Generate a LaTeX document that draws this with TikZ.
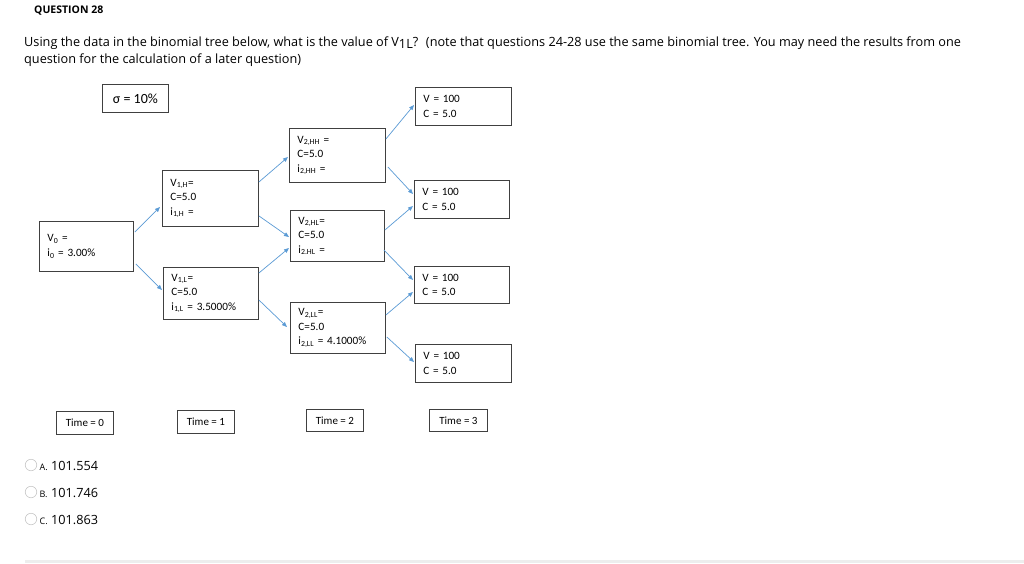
\documentclass[tikz,border=0pt]{standalone}
\usepackage{fontspec}
\setmainfont{Open Sans}
\newfontfamily\calfont{Carlito}
\usetikzlibrary{calc,arrows.meta}
\definecolor{arr}{HTML}{5B9BD5}
\definecolor{boxline}{HTML}{404040}
\tikzset{
  tbox/.style={draw=boxline, line width=0.9pt, anchor=north west, align=left,
    font=\calfont\fontsize{11.2}{14.5}\selectfont, inner xsep=8pt, inner ysep=0pt},
  lbl/.style={draw=boxline, line width=0.9pt, anchor=north west, align=center,
    font=\calfont\fontsize{11}{12}\selectfont, inner sep=0pt},
  link/.style={draw=arr, line width=0.7pt, -{Triangle[length=5pt,width=4pt]}},
  radio/.style={circle, draw=black!22, line width=0.6pt, minimum size=11.5pt, inner sep=0pt},
}
\begin{document}
\begin{tikzpicture}[x=1pt,y=-1pt]
\useasboundingbox (0,0) rectangle (1024,563);
\fill[white] (0,0) rectangle (1024,563);

% header
\node[anchor=base west, inner sep=0pt, font=\bfseries\fontsize{10.5}{13}\selectfont] (title) at (34,13) {QUESTION 28};
\node[anchor=base west, inner sep=0pt, font=\fontsize{12.7}{17}\selectfont] (q1) at (24,46)
  {Using the data in the binomial tree below, what is the value of V\raisebox{-2pt}{1L}? \ (note that questions 24-28 use the same binomial tree. You may need the results from one};
\node[anchor=base west, inner sep=0pt, font=\fontsize{12.7}{17}\selectfont] (q2) at (24,63)
  {question for the calculation of a later question)};

% sigma
\node[lbl, minimum width=66pt, minimum height=28pt, font=\calfont\fontsize{14}{16}\selectfont] (sig) at (102,84) {σ = 10\%};

% tree boxes
\node[tbox, minimum width=94pt, minimum height=50pt, text width=78pt] (v0) at (39,221)
  {V\textsubscript{0} =\\ i\textsubscript{0} = 3.00\%\\[4pt]};
\node[tbox, minimum width=96pt, minimum height=56pt, text width=80pt] (v1h) at (162,170)
  {V\textsubscript{1,H}=\\ C=5.0\\ i\textsubscript{1,H} =};
\node[tbox, minimum width=95pt, minimum height=52pt, text width=79pt] (v1l) at (163,267)
  {V\textsubscript{1,L}=\\ C=5.0\\ i\textsubscript{1,L} = 3.5000\%};
\node[tbox, minimum width=96pt, minimum height=54pt, text width=80pt] (v2hh) at (289,128)
  {V\textsubscript{2,HH} =\\ C=5.0\\ i\textsubscript{2,HH} =};
\node[tbox, minimum width=94pt, minimum height=51pt, text width=78pt] (v2hl) at (290,210)
  {V\textsubscript{2,HL}=\\ C=5.0\\ i\textsubscript{2.HL} =};
\node[tbox, minimum width=95pt, minimum height=51pt, text width=79pt] (v2ll) at (290,302)
  {V\textsubscript{2,LL}=\\ C=5.0\\ i\textsubscript{2,LL} = 4.1000\%};
\node[tbox, minimum width=96pt, minimum height=38pt, text width=80pt] (t3a) at (415,87)
  {V = 100\\ C = 5.0};
\node[tbox, minimum width=95pt, minimum height=38pt, text width=79pt] (t3b) at (414,180)
  {V = 100\\ C = 5.0};
\node[tbox, minimum width=95pt, minimum height=37pt, text width=79pt] (t3c) at (414,266)
  {V = 100\\ C = 5.0};
\node[tbox, minimum width=96pt, minimum height=38pt, text width=80pt] (t3d) at (415,344)
  {V = 100\\ C = 5.0};

% time labels
\node[lbl, minimum width=57pt, minimum height=23pt] (time0) at (56,411) {Time = 0};
\node[lbl, minimum width=57pt, minimum height=23pt] (time1) at (177,410) {Time = 1};
\node[lbl, minimum width=57pt, minimum height=22pt] (time2) at (306,409) {Time = 2};
\node[lbl, minimum width=58pt, minimum height=22pt] (time3) at (429,409) {Time = 3};

% connectors
\draw[link] ($(v0.north east)+(1,11)$) -- ($(v1h.north west)+(-2,37)$);
\draw[link] ($(v0.south east)+(2,-8)$) -- ($(v1l.north west)+(-1,23)$);
\draw[link] ($(v1h.north east)+(0,12)$) -- ($(v2hh.north west)+(-1,29)$);
\draw[link] ($(v1h.south east)+(0,-11)$) -- ($(v2hl.north west)+(-1,27)$);
\draw[link] ($(v1l.north east)+(0,6)$) -- ($(v2hl.north west)+(-1,38)$);
\draw[link] ($(v1l.north east)+(0,33)$) -- ($(v2ll.north west)+(-3,25)$);
\draw[link] ($(v2hh.north east)+(0,11)$) -- ($(t3a.north west)+(-1,18)$);
\draw[link] ($(v2hh.north east)+(2,39)$) -- ($(t3b.north west)+(-1,14)$);
\draw[link] ($(v2hl.north east)+(0,20)$) -- ($(t3b.north west)+(-1,26)$);
\draw[link] ($(v2hl.north east)+(-1,40)$) -- ($(t3c.north west)+(-1,14)$);
\draw[link] ($(v2ll.north east)+(0,13)$) -- ($(t3c.north west)+(-1,26)$);
\draw[link] ($(v2ll.north east)+(1,35)$) -- ($(t3d.north west)+(-1,18)$);

% answers
\node[radio] (ra) at (31,465) {};
\node[radio] (rb) at (31,492) {};
\node[radio] (rc) at (31,519) {};
\node[anchor=base west, inner sep=0pt, font=\fontsize{9}{10}\selectfont] (la) at (39.5,470) {A.};
\node[anchor=base west, inner sep=0pt, font=\fontsize{9}{10}\selectfont] (lb) at (39.5,497) {B.};
\node[anchor=base west, inner sep=0pt, font=\fontsize{9}{10}\selectfont] (lc) at (39.5,524) {C.};
\node[anchor=base west, inner sep=0pt, font=\fontsize{12.7}{14}\selectfont] (aa) at (51,470) {101.554};
\node[anchor=base west, inner sep=0pt, font=\fontsize{12.7}{14}\selectfont] (ab) at (51,497) {101.746};
\node[anchor=base west, inner sep=0pt, font=\fontsize{12.7}{14}\selectfont] (ac) at (51,524) {101.863};

% separator
\fill[black!7] (25,560) rectangle (1024,563);
\end{tikzpicture}
\end{document}
